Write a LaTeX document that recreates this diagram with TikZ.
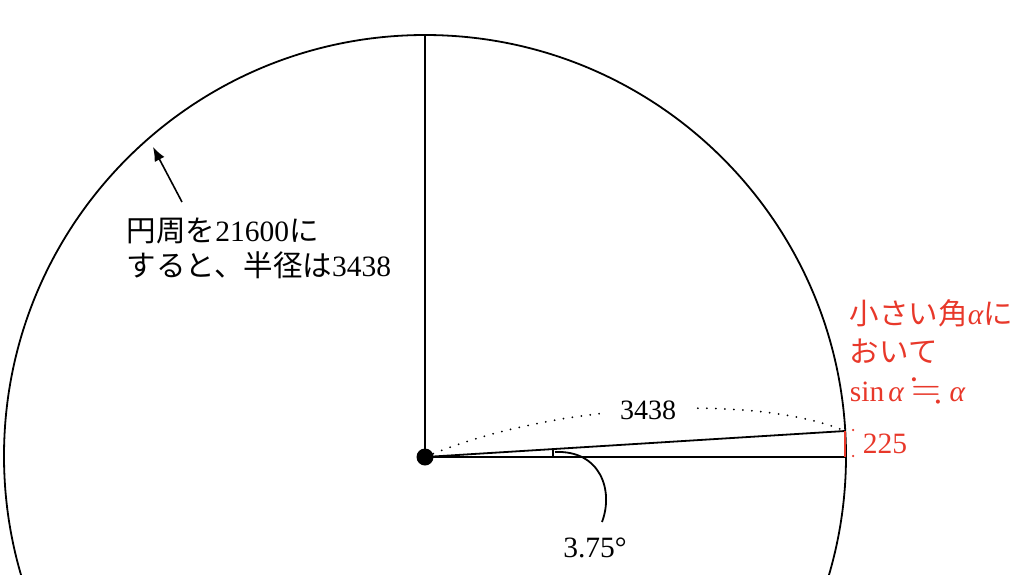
\documentclass[tikz,border=0pt]{standalone}
\usepackage{amssymb}
\usepackage{fontspec}
\setmainfont{Liberation Serif}
\newfontfamily\jp{Noto Sans CJK JP}
\usetikzlibrary{arrows.meta}
\definecolor{myred}{RGB}{232,56,42}
\newcommand{\alp}{{\itshape α}}
\begin{document}
\begin{tikzpicture}[x=1pt,y=-1pt,line width=1.8pt,
  lbl/.style={font=\fontsize{29.5}{35}\selectfont, inner sep=0pt, anchor=base west},
  redlbl/.style={lbl, text=myred},
  dotline/.style={line width=2pt, dash pattern=on 0pt off 9pt, line cap=round}]
\useasboundingbox (0,0) rectangle (1024,574);
\begin{scope}
  \clip (0,0) rectangle (1024,574);
  \draw (425,456) circle[radius=421pt];
\end{scope}
\node[circle, fill, inner sep=0pt, minimum size=17pt] (O) at (425,457) {};
\coordinate (top) at (425,35);
\coordinate (R) at (845,457);
\coordinate (P) at (845,431);
\draw (O.center) -- (top);
\draw (O.center) -- (R);
\draw (O.center) -- (P);
% angle tick and leader
\coordinate (t1) at (553,457);
\coordinate (t2) at (553,449);
\draw[line width=1.4pt] (t1) -- (t2);
\node[lbl, anchor=base] (ang) at (595,557) {3.75°};
\draw[line width=1.8pt] (555,452) .. controls (600,450) and (614,490) .. (602,522);
% dotted arc
\draw[dotline] (O.center) .. controls (560,400) and (760,395) .. (P);
\node[lbl, anchor=base, font=\fontsize{28}{34}\selectfont, fill=white, inner xsep=20pt, inner ysep=6pt] (r) at (648,419) {3438};
% red segment
\draw[myred, line width=1.5pt] (P) -- (R);
\node[circle, fill=myred, inner sep=0pt, minimum size=2.5pt] (d1) at (853,430) {};
\node[circle, fill=myred, inner sep=0pt, minimum size=2.5pt] (d2) at (853,456) {};
\node[redlbl] (n225) at (862,453) {225};
\node[redlbl] (note1) at (849,324) {{\jp 小さい角}\alp{\jp に}};
\node[redlbl] (note2) at (849,362) {\jp おいて};
\node[redlbl] (note3) at (849,401) {sin\hspace{4pt}\alp\hspace{8pt}\raisebox{0.5pt}{\scalebox{1.3}{$\fallingdotseq$}}\hspace{8pt}\alp};
% circumference label
\node[lbl] (circ1) at (126,241) {{\jp 円周を}21600{\jp に}};
\node[lbl] (circ2) at (126,276) {{\jp すると、半径は}3438};
\coordinate (arrtip) at (153,147);
\draw[line width=1.6pt, -{Latex[length=14pt,width=11pt]}] (182,202) -- (arrtip);
\end{tikzpicture}
\end{document}
